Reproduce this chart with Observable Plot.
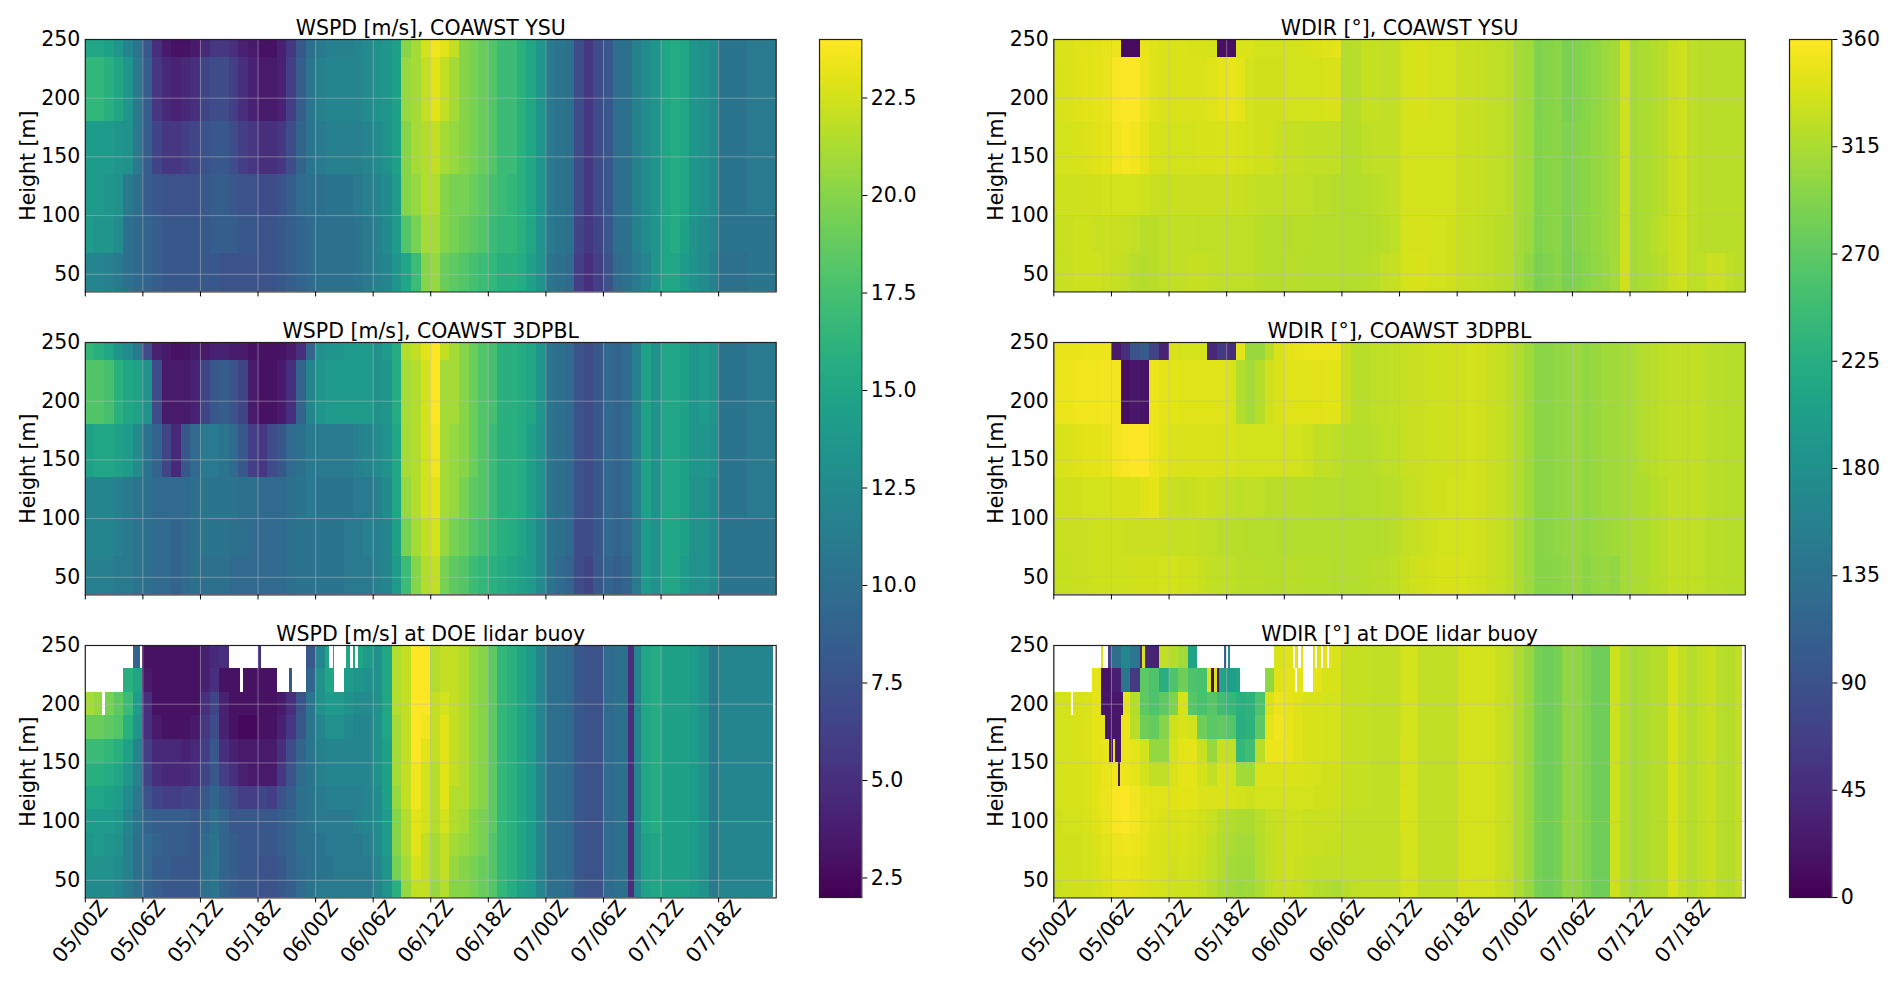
<!DOCTYPE html>
<html>
<head>
<meta charset="utf-8">
<script src="https://cdn.jsdelivr.net/npm/d3@7"></script>
<script src="https://cdn.jsdelivr.net/npm/@observablehq/plot@0.6"></script>
<style>
html,body{margin:0;padding:0;background:#fff;}
#chart{position:relative;width:1892px;height:983px;overflow:hidden;}
#chart>svg{position:absolute;overflow:visible;}
</style>
</head>
<body>
<div id="chart"></div>
<script>
const n = null;
// hourly columns, hours after 05/00Z
const colStarts = [0,1,2,3,4,5,6,7,8,9,10,11,12,13,14,15,16,17,18,19,20,21,22,23,24,25,26,27,28,29,
  30,31,32,33,34,35,36,37,38,39,40,41,42,43,44,45,46,47,48,49,50,51,52,53,54,55,56,57,58,59,60,61,62,63,64,65,66,67,68,69,70,71];
const tickHours = [0,6,12,18,24,30,36,42,48,54,60,66];
const tickLabels = ["05/00Z","05/06Z","05/12Z","05/18Z","06/00Z","06/06Z","06/12Z","06/18Z","07/00Z","07/06Z","07/12Z","07/18Z"];
const heightTicks = [50,100,150,200,250];
const modelEdges = [250,235,180,135,100,68,35];
const lidarEdges = [250,230,210,190,170,150,130,110,90,70,50,35];
const spdTicks = [2.5,5,7.5,10,12.5,15,17.5,20,22.5];
const dirTicks = [0,45,90,135,180,225,270,315,360];

const spdYsu = [
 [15,15,14.5,13.5,12,10.5,8,5,3.5,3,3,3.5,4.5,5.5,5.5,5,4,3.5,3,3,4,5.5,8,10,11,11.5,11.5,11.5,12,12.5,
  13,13.5,14.5,20,21,22.5,23.5,23,22,20,19.5,19,18,17,17,16,15,13.5,11,10.5,10,7,5.5,7,8,10,10,11.5,12.5,13.5,15,15.5,15,13.5,13,12.5,10.5,10.5,10.5,11,11,11],
 [16.5,16.5,16,15,13.5,11,8.5,5.5,4.5,4,4.5,5,6.5,7,7,6,5,4,3.5,3.5,4,6,8.5,10.5,11.5,12,12,12,12,12.5,
  13,13.5,14.5,20.5,21,22,23,22,21,20,19.5,19,18,17,17,16,15,13.5,11,10.5,10,7,5.5,7,8,10,10,11.5,12.5,13.5,15,15.5,15,13.5,13,12.5,10.5,10.5,10.5,11,11,11],
 [14,14,14,13.5,13,11,8.5,6.5,5.5,5.5,6,6.5,7.5,8,8,7,6,5.5,5,5,5.5,7,9,10.5,11,11.5,11.5,11.5,11.5,12,
  12.5,13,14.5,20,21,21.5,22,21,20.5,20,19.5,19,18,17,17,16,15,13.5,11,10.5,10,7,5.5,7,8,10,10,11.5,12.5,13.5,15,15.5,15,13.5,13,12.5,10.5,10.5,10.5,11,11,11],
 [14,14,13.5,13,11,10,8.5,8,7.5,7.5,7.5,7.5,8,8.5,8.5,8,7.5,7.5,7,7,7.5,8.5,9.5,10,10,10.5,10.5,10.5,11,11.5,
  12,12.5,14,20,20.5,21.5,21.5,20,19.5,19.5,19,18.5,17.5,17,16.5,16,15,13.5,11,10.5,10,7,5.5,7,8,10,10,11.5,12.5,13.5,15,15.5,15,13.5,13,12.5,10.5,10.5,10.5,11,11,11],
 [14,13.5,13.5,12.5,10,9.5,9,8.5,8,8,8,8,8,8.5,8.5,8.5,8,8,7.5,7.5,8,8.5,9,9.5,10,10,10,10,10.5,11,
  11.5,12.5,14,18,19.5,21,21,20,19.5,19,18.5,18,17,16.5,16.5,16,15,13,11,10.5,10,6.5,5.5,6.5,8,10,10,11.5,12.5,13.5,15,15.5,14.5,13,12.5,12,10.5,10.5,10.5,10.5,10.5,10.5],
 [12,12,11.5,11,10,9.5,9,8.5,8,8,8,8,8,8,7.5,7.5,7.5,7.5,7.5,7.5,8,8.5,9,9.5,10,10,10,10,10.5,11,
  11.5,12,13.5,15,17,20,20.5,19,18.5,18,17.5,17,16.5,16,16,15.5,14.5,13,10.5,10,9.5,6,5,6,7.5,9.5,10,11,12,13.5,15,15,14,13,12.5,11.5,10,10,10,10.5,10.5,10.5]
];
const spd3d = [
 [16.5,16,15,13.5,12.5,11,7,4,3.5,3,3,3.5,3.5,4,4,3.5,3.5,3,3,3,3,3.5,5,9,13,13.5,13.5,14,14,14,
  13,14,15.5,21.5,22,23,24,22,21,20,19,18,17.5,16,16,15.5,15,13.5,10.5,10,9.5,7.5,7,8,9.5,9,9.5,11.5,14.5,13,15,15,14.5,13.5,14,13.5,10.5,10.5,10.5,11,11,11],
 [18,18,17.5,16,15,14.5,13,7,3.5,3.5,3.5,4,6.5,8,8.5,7.5,6.5,3.5,3,3,3.5,5,9,12,13.5,14,14,14,14,14,
  13,13.5,15.5,21,21.5,22.5,24,21,21,20,19,18,17.5,16,16,15.5,15,13.5,10.5,10,9.5,7.5,7,8,9.5,9,9.5,11.5,14.5,13,15,15,14.5,13.5,14,13.5,10.5,10.5,10.5,11,11,11],
 [14.5,15,15,14.5,14,12.5,10.5,9,6.5,4.5,8,9.5,11,11,10.5,9.5,8,6,5.5,7,8,9.5,10,11,11,11,11,11,11.5,12,
  12.5,13,15,21,21.5,22.5,23.5,21,20.5,20,19,18,17,16,16,15.5,14.5,13,10.5,10,9.5,7.5,7,8,9.5,9,9.5,11.5,14.5,13,15,15,14.5,13.5,13.5,13,10.5,10.5,10.5,11,11,11],
 [12,12,12,11.5,11,10.5,10,9.5,9.5,9.5,9.5,10,10.5,10.5,10.5,10.5,10,10,9.5,9.5,9.5,10,10.5,11,10.5,10.5,10.5,10.5,11,11,
  11.5,12.5,15,20.5,21.5,22.5,23,21,20.5,19.5,18.5,18,17,16,16,15.5,14.5,13,10.5,10,9.5,7.5,7,8,9.5,9,9.5,11.5,14.5,13,15,15,14.5,13,13,12.5,10.5,10.5,10.5,11,11,11],
 [12,12,12,11.5,11,10.5,10,9.5,9.5,9,9.5,10,10.5,10.5,10.5,10,10,9.5,9.5,9.5,9.5,10,10.5,10.5,10.5,10.5,10.5,11,11,11.5,
  11.5,12,14.5,19.5,21,22,22.5,20.5,19.5,19,18,17.5,16.5,16,15.5,15,14,12.5,10.5,10,9.5,7,7,8,9.5,9,9.5,11,14,13,15,15,14.5,13,13,12.5,10.5,10.5,10.5,10.5,10.5,10.5],
 [11.5,11.5,11.5,11,11,10.5,10,9.5,9.5,9,9.5,10,10,10,10,9.5,9.5,9.5,9.5,9.5,9.5,10,10.5,10.5,10.5,10.5,10.5,11,11,11,
  11.5,12,14,17,20,21.5,22,19.5,18.5,18,17,16.5,16,15.5,15,14.5,14,12.5,10.5,9.5,9,7,6.5,8,9,8.5,9,11,14,13,15,15,14,13,13,12.5,10.5,10.5,10.5,10.5,10.5,10.5]
];
const spdLidar = [
 [n,n,n,n,n,9,3,3,3,3,3,3,4,4.5,5,n,n,n,n,n,n,n,n,8,12,15,n,15,15,14,
  13,15,21.5,22,24,24,21.5,22,22,21.5,20.5,20,18.5,16.5,16,15,14,12,10,10,9.5,8,7.5,7.5,9.5,10,10,12,15,15.5,14.5,14.5,14.5,14,13,11,12,12,12,12,12,12],
 [n,n,n,n,16,15,3.5,3,3,3,3,3,4,5,3,3,3,3,3,3,n,n,n,9,13,15,n,14,13.5,13,
  13,15,21.5,22,24,24,21.5,22,22,21.5,20.5,20,18.5,16.5,16,15,14,12,10,10,9.5,8,7.5,7.5,9.5,10,10,12,15,15.5,14.5,14.5,14.5,14,13,11,12,12,12,12,12,12],
 [21,20.5,19.5,18.5,17,14,5,3,3,3,3,3,5,6.5,4,3,3,3,3,3,3.5,5,7.5,10.5,13,14,14,13,12.5,12.5,
  13,15,21.5,22,24,24,22,22.5,22,21.5,20.5,20,18.5,16.5,16,15,14,12,10,10,9.5,8,7.5,7.5,9.5,10,10,12,15,15.5,14.5,14.5,14.5,14,13,11,12,12,12,12,12,12],
 [19,19,18.5,18,16,13.5,5,3.5,3,3,3,3.5,5.5,7,4,3,2.5,2.5,3,3,4,5.5,8,10.5,12,13,13,12.5,12,12,
  13,15,21,22,24,23.5,22,23,22,21.5,20.5,20,18.5,16.5,16,15,14,12,10,10,9.5,8,7.5,7.5,9.5,10,10,12,15,15.5,14.5,14.5,14.5,14,13,11,12,12,12,12,12,12],
 [17,17,16.5,16,14.5,12,6,4.5,4.5,4.5,4,4.5,6,8,5,4,3.5,3.5,3.5,3.5,5,7,9,10.5,11.5,12,12,12,12,12,
  13,14.5,21,22,24,23,22,23,22,21.5,20.5,20,18.5,16.5,16,15,14,12,10,10,9.5,8,7.5,7.5,9.5,10,10,12,15,15.5,14.5,14.5,14.5,14,13,11,12,12,12,12,12,12],
 [16,16,15.5,15,13.5,11.5,6.5,5,4.5,4.5,4.5,5,6.5,8,6,5,4,3.5,3.5,3.5,5.5,7.5,9.5,10.5,11.5,12,12,12,12,12,
  13,14.5,21,22,23.5,22.5,21.5,23,22,21.5,20.5,20,18.5,16.5,16,15,14,12,10,10,9.5,8,7.5,7.5,9.5,10,10,12,15,15.5,14.5,14.5,14.5,14,13,11,12,12,12,12,12,12],
 [15,15,14.5,14,12.5,11,7.5,6.5,6,6,6.5,6.5,8,9,8,7,6,6,6.5,6,7.5,8.5,10,10.5,11,11.5,11.5,11.5,11.5,12,
  12.5,14.5,20.5,22,23.5,22.5,21.5,23,21.5,21.5,20.5,20,18.5,16.5,16,15,14,12,10,10,9.5,8,7.5,7.5,9.5,10,10,12,15,15.5,14.5,14.5,14.5,14,13,11,12,12,12,12,12,12],
 [14,14,14,13.5,12,10.5,9,8.5,8.5,8.5,8.5,8,9,10,9,8,8,8,8,8,8.5,9,10,10.5,11,11,11,11,11.5,12,
  12.5,14,20,21.5,23,22.5,21.5,22.5,21.5,21,20,19.5,18.5,16.5,16,15,14,12,10,10,9.5,8,7.5,7.5,9.5,10,10,12,15,15.5,14.5,14.5,14.5,14,13,11,12,12,12,12,12,12],
 [13.5,14,13.5,13,11.5,10,9.5,9,8.5,8.5,8.5,8,9.5,10.5,9,8.5,8,8,8,8,8.5,9,10,10,10.5,11,11,11,11,11.5,
  12.5,14,20,21.5,23,22,21,22,21,20.5,20,19.5,18,16.5,16,15,14,12,10,10,9.5,8,7.5,7.5,9.5,10,10,12,14.5,15,14.5,14.5,14.5,14,13,11,12,12,12,12,12,12],
 [13,13,13,12.5,11.5,10,9.5,8.5,8.5,8,8,8,10,10.5,9,8.5,8,8,7.5,7.5,8,9,9.5,10,10.5,10.5,11,11,11,11,
  12,13.5,19.5,21,22.5,22,21,22,20.5,20,19.5,19,18,16.5,16,15,14,12,10,10,9.5,8,7.5,7.5,9.5,10,10,12,14.5,15,14.5,14.5,14.5,14,13,11,12,12,12,12,12,12],
 [12.5,12.5,12.5,12,11,10,9,8.5,8,8,8,8,10,10.5,9,8.5,8,8,7.5,7.5,8,8.5,9.5,10.5,11,11,11,11,11,11,
  12,13,16,20.5,22,22,20.5,21.5,20,20,19.5,19,18,16.5,15.5,14.5,14,12,10,10,9.5,8,7.5,7.5,9.5,10,10,12,14.5,15,14.5,14.5,14.5,14,13,11,12,12,12,12,12,12]
];
const dirYsu = [
 [340,340,342,342,344,346,350,10,10,346,342,340,340,340,338,338,336,14,14,340,340,336,335,336,335,335,338,340,342,345,
  320,322,328,328,326,326,336,338,338,336,336,336,330,330,328,326,324,322,312,308,290,295,298,288,292,296,300,306,310,332,312,314,318,322,330,332,324,322,322,322,322,322],
 [338,340,342,344,345,348,356,358,358,350,342,340,340,340,340,340,342,345,348,345,335,334,334,334,335,336,336,336,338,338,
  320,322,328,328,326,326,336,338,338,336,336,336,330,330,328,326,324,322,312,308,290,295,298,288,292,296,300,306,310,332,312,314,318,322,330,332,324,322,322,322,322,322],
 [336,336,338,340,342,345,352,356,354,346,338,336,336,336,336,338,338,340,340,338,336,334,334,330,328,328,326,326,326,326,
  318,320,324,326,326,326,336,336,336,336,336,336,330,330,328,326,324,322,312,308,292,296,298,290,294,298,302,306,310,332,312,314,318,322,330,332,324,322,322,322,322,322],
 [332,332,332,334,334,335,335,336,336,332,330,328,330,330,330,330,330,330,330,330,328,326,326,325,325,325,324,322,322,320,
  318,318,320,322,324,326,336,336,336,336,336,336,330,330,328,326,324,322,312,308,292,296,298,290,294,298,302,306,310,332,312,314,318,322,330,332,324,322,322,322,322,322],
 [330,330,332,332,330,330,330,328,326,322,322,324,326,326,326,324,324,324,324,324,324,322,320,320,320,322,322,320,320,320,
  318,318,318,320,322,324,336,337,337,336,336,334,328,328,326,324,322,320,312,306,290,296,298,288,294,298,302,306,310,332,312,316,320,324,330,332,324,322,322,322,322,322],
 [328,330,332,332,332,330,328,326,322,320,322,324,326,326,328,328,326,324,324,324,324,322,320,320,322,322,320,320,320,320,
  318,318,320,322,326,328,336,338,338,336,336,334,328,328,326,324,322,320,310,302,288,292,296,288,292,296,300,304,310,334,312,314,318,322,330,332,324,324,330,330,324,322]
];
const dir3d = [
 [348,348,348,350,350,350,25,50,90,100,70,35,340,335,335,335,40,60,45,345,305,305,322,340,345,348,350,350,350,350,
  330,322,322,324,324,326,328,330,330,332,332,334,334,336,334,330,328,324,318,308,298,298,300,302,306,300,304,308,308,312,314,318,322,324,326,326,326,326,322,322,320,320],
 [350,350,352,352,352,354,354,14,22,18,350,345,344,342,342,342,342,342,340,318,312,320,334,340,342,342,342,342,344,344,
  330,322,322,324,324,326,328,330,330,332,332,334,334,336,334,330,328,324,318,308,298,298,300,302,306,300,304,308,308,312,314,318,322,324,326,326,326,326,322,322,320,320],
 [338,340,342,344,344,346,354,356,358,358,350,344,340,340,340,340,340,338,338,336,336,336,336,336,336,336,332,326,326,324,
  320,320,320,322,324,324,328,330,330,332,332,334,334,336,334,330,328,324,318,308,298,298,300,302,306,300,304,308,308,312,314,318,322,324,326,326,326,326,322,322,320,320],
 [332,334,334,336,336,336,338,338,338,342,345,334,330,328,330,332,330,328,326,324,326,324,322,322,322,322,322,320,320,320,
  318,318,320,320,322,322,326,328,330,332,334,336,336,336,334,330,328,324,318,308,298,298,300,302,306,300,304,308,308,312,314,316,320,322,326,326,326,326,322,322,320,320],
 [330,330,330,330,332,332,332,330,330,330,330,330,328,328,328,326,324,322,322,322,320,320,320,318,318,318,318,318,318,318,
  318,318,318,318,320,322,326,328,330,332,336,336,336,336,334,330,328,324,316,306,296,298,300,302,304,300,304,306,308,312,314,316,320,322,326,326,326,324,322,322,320,320],
 [328,328,330,330,332,332,332,332,334,334,334,336,336,334,332,330,326,324,324,322,322,322,320,320,322,322,320,320,320,318,
  318,318,320,322,322,324,328,332,334,336,338,338,338,336,334,330,328,324,316,306,296,296,298,300,304,298,302,304,300,312,314,316,320,322,326,326,326,324,322,322,320,320]
];
const dirLidar = [
 [n,n,n,n,n,n,130,165,140,40,35,325,320,310,210,n,n,n,n,n,n,n,n,340,342,342,n,340,345,340,
  328,328,328,326,326,326,335,335,326,326,325,325,337,336,335,335,330,326,315,305,285,280,285,300,300,290,280,280,332,318,312,316,320,320,338,325,320,325,330,322,320,325],
 [n,n,n,n,345,18,30,140,60,270,260,225,260,280,260,255,340,210,200,210,n,n,300,342,345,345,n,345,338,338,
  328,328,328,326,326,326,335,335,326,326,325,325,337,336,335,335,330,326,315,305,285,280,285,300,300,290,280,280,332,318,312,316,320,320,338,325,320,325,330,322,320,325],
 [335,335,338,340,345,20,22,345,320,270,260,270,290,338,265,255,265,250,240,228,232,258,340,350,346,342,338,338,336,336,
  328,328,328,326,326,326,335,335,326,326,325,325,337,336,335,335,330,326,315,305,285,280,285,300,300,290,280,280,332,318,312,316,320,320,338,325,320,325,330,322,320,325],
 [336,336,338,340,345,345,20,350,322,280,275,295,332,340,335,280,268,272,262,225,232,268,345,352,346,342,338,338,336,336,
  328,328,328,326,326,326,335,335,326,326,325,325,337,336,335,335,330,326,315,305,285,280,285,300,300,290,280,280,332,318,312,316,320,320,338,325,320,325,330,322,320,325],
 [336,336,338,340,345,348,22,350,345,335,302,302,335,345,345,330,305,330,325,240,250,322,350,350,346,342,338,338,336,336,
  328,328,328,326,326,326,337,335,326,326,325,325,337,336,335,335,330,326,315,305,285,280,285,300,300,290,280,280,332,318,312,316,320,320,338,325,320,325,330,322,320,325],
 [336,338,338,340,344,348,352,350,345,335,325,325,340,345,345,335,325,340,335,310,310,340,340,340,340,340,338,336,334,334,
  328,328,328,326,326,326,337,335,326,326,325,325,337,336,335,335,330,326,315,305,285,280,285,300,300,290,280,280,332,318,312,316,320,320,338,325,320,325,330,322,320,325],
 [336,338,338,340,344,350,356,358,352,345,342,342,342,344,344,340,340,340,338,335,332,335,336,336,336,336,336,334,334,332,
  328,328,328,326,326,326,338,335,326,326,325,325,337,336,335,335,330,326,315,305,285,280,285,300,300,290,280,280,332,318,312,316,320,320,338,325,320,325,330,322,320,325],
 [334,336,336,338,342,348,356,358,354,346,342,340,338,340,338,334,330,322,318,316,316,322,328,330,332,332,330,330,330,330,
  326,326,326,326,326,326,338,335,326,326,325,325,337,336,335,335,330,326,315,305,285,280,285,300,300,290,280,280,332,318,312,316,320,320,338,325,320,325,330,322,320,325],
 [334,334,334,336,340,344,350,352,350,345,340,338,336,338,336,332,326,320,316,312,312,320,326,330,332,332,330,330,328,328,
  326,326,326,326,326,326,336,335,326,326,325,325,337,336,335,335,330,326,315,305,285,280,285,300,300,290,280,280,332,318,312,316,320,320,338,325,320,325,330,322,320,325],
 [332,334,334,336,338,342,346,348,346,342,340,338,334,336,334,330,324,318,312,308,308,318,326,330,332,330,328,326,326,326,
  324,324,326,326,326,326,336,335,326,326,325,325,337,336,335,335,330,326,315,305,285,280,285,300,300,290,280,280,332,318,312,316,320,320,338,325,320,325,330,322,320,325],
 [330,332,334,334,336,340,344,344,342,340,338,336,332,332,332,328,322,314,310,306,308,316,324,328,330,328,324,320,318,316,
  322,324,326,326,326,326,336,335,326,326,325,325,337,336,335,335,330,326,315,305,285,280,285,300,300,290,280,280,332,318,312,316,320,320,338,325,320,325,330,322,320,325]
];
// features narrower than a column: hours from, hours to, height from, height to, value (null = no data)
const spdLidarFine = [[1.8,2.1,190,210,n],[5.7,6,230,250,n],[16.2,16.5,210,230,n],[18,18.4,230,250,5],[21.3,21.6,210,230,8],[25.5,25.9,230,250,n],[26.9,27.2,230,250,n],[27.6,27.9,230,250,n],[28.2,28.5,230,250,n],[56.6,57.2,35,250,5]];
const dirLidarFine = [[1.8,2.1,190,210,n],[5,5.2,230,250,340],[5.65,6,230,250,70],[9.2,9.55,230,250,340],[17.8,18,230,250,110],[18.2,18.4,230,250,170],[19.4,20,210,230,n],[5.4,6,170,190,20],[7,7.3,190,210,22],[5.8,6,150,170,22],[6.25,6.4,150,170,350],[6.75,6.95,130,150,25],[25,25.2,230,250,n],[25.5,25.8,230,250,n],[27.3,27.5,230,250,n],[27.9,28.1,230,250,n],[28.5,28.7,230,250,n],[25.2,25.4,210,230,n],[26.2,26.5,210,230,n],[16.4,16.7,210,230,15],[17,17.3,210,230,15]];

const spdScale = {type:"linear",scheme:"viridis",domain:[2,24]};
const dirScale = {type:"linear",scheme:"viridis",domain:[0,360]};
const tops = [39.3,342.3,645];
const panelH = 252.4;
const chart = document.getElementById("chart");
const font = {fontFamily:"'DejaVu Sans'",fontSize:"20.5px",background:"transparent"};

function mount(svg,left,top){svg.style.left=left+"px";svg.style.top=top+"px";chart.appendChild(svg);}

function panel({title,rows,edges,scale,left,width,mL,mR,row,end,fine}){
  const cells = rows.flatMap((r,i)=>r.map((v,j)=>({
    t0:colStarts[j], t1:j+1<colStarts.length?colStarts[j+1]:end,
    z0:edges[i+1], z1:edges[i], v
  }))).filter(d=>d.v!=null);
  const fines = (fine||[]).map(([t0,t1,z0,z1,v])=>({t0,t1,z0,z1,v}));
  const last = row===2;
  const mT = 36, mB = last?85:6;
  const svg = Plot.plot({
    width,height:mT+panelH+mB,marginLeft:mL,marginRight:mR,marginTop:mT,marginBottom:mB,
    style:font,
    x:{domain:[0,72]},
    y:{domain:[35,250]},
    color:scale,
    marks:[
      Plot.rect(cells,{x1:"t0",x2:"t1",y1:"z0",y2:"z1",fill:"v",shapeRendering:"crispEdges"}),
      Plot.rect(fines.filter(d=>d.v!=null),{x1:"t0",x2:"t1",y1:"z0",y2:"z1",fill:"v",shapeRendering:"crispEdges"}),
      Plot.rect(fines.filter(d=>d.v==null),{x1:"t0",x2:"t1",y1:"z0",y2:"z1",fill:"white",shapeRendering:"crispEdges"}),
      Plot.gridX(tickHours,{stroke:"#bbb",strokeOpacity:0.5,strokeWidth:1}),
      Plot.gridY(heightTicks,{stroke:"#bbb",strokeOpacity:0.5,strokeWidth:1}),
      Plot.frame({stroke:"#222",strokeWidth:1.2}),
      Plot.axisY({ticks:heightTicks,tickSize:0,tickPadding:5,label:"Height [m]",labelAnchor:"center",labelArrow:"none",labelOffset:65}),
      Plot.axisX({ticks:tickHours,tickSize:5,tickPadding:4,label:null,tickFormat:()=>""}),
      last?Plot.text(tickHours,{x:d=>d,text:d=>tickLabels[tickHours.indexOf(d)],rotate:-50,frameAnchor:"bottom",textAnchor:"middle",dy:38}):null,
      Plot.text([title],{frameAnchor:"top",lineAnchor:"bottom",dy:-4})
    ]
  });
  mount(svg,left,tops[row]-mT);
}

function colorbar({ticks,domain,scale,left,fmt}){
  const steps = d3.range(256).map(i=>({
    a:domain[0]+(domain[1]-domain[0])*i/256,
    b:domain[0]+(domain[1]-domain[0])*(i+1)/256
  }));
  const svg = Plot.plot({
    width:110,height:858+40,marginLeft:1,marginRight:66.7,marginTop:20,marginBottom:20,
    style:font,
    x:{axis:null,domain:[0,1]},
    y:{domain},
    color:scale,
    marks:[
      Plot.rect(steps,{x1:0,x2:1,y1:"a",y2:"b",fill:"a",shapeRendering:"crispEdges"}),
      Plot.frame({stroke:"#222",strokeWidth:1.2}),
      Plot.axisY({anchor:"right",ticks,tickSize:5,tickPadding:4,label:null,tickFormat:fmt})
    ]
  });
  mount(svg,left-1,39.3-20);
}

const L = {left:0,width:800,mL:84.8,mR:24.3};
const R = {left:950,width:820,mL:103.3,mR:25.2};
panel({...L,row:0,title:"WSPD [m/s], COAWST YSU",rows:spdYsu,edges:modelEdges,scale:spdScale,end:72});
panel({...L,row:1,title:"WSPD [m/s], COAWST 3DPBL",rows:spd3d,edges:modelEdges,scale:spdScale,end:72});
panel({...L,row:2,title:"WSPD [m/s] at DOE lidar buoy",rows:spdLidar,edges:lidarEdges,scale:spdScale,end:71.7,fine:spdLidarFine});
panel({...R,row:0,title:"WDIR [°], COAWST YSU",rows:dirYsu,edges:modelEdges,scale:dirScale,end:72});
panel({...R,row:1,title:"WDIR [°], COAWST 3DPBL",rows:dir3d,edges:modelEdges,scale:dirScale,end:72});
panel({...R,row:2,title:"WDIR [°] at DOE lidar buoy",rows:dirLidar,edges:lidarEdges,scale:dirScale,end:71.7,fine:dirLidarFine});
colorbar({ticks:spdTicks,domain:[2,24],scale:spdScale,left:818.8,fmt:d=>d.toFixed(1)});
colorbar({ticks:dirTicks,domain:[0,360],scale:dirScale,left:1788.7,fmt:d=>String(d)});
</script>
</body>
</html>
